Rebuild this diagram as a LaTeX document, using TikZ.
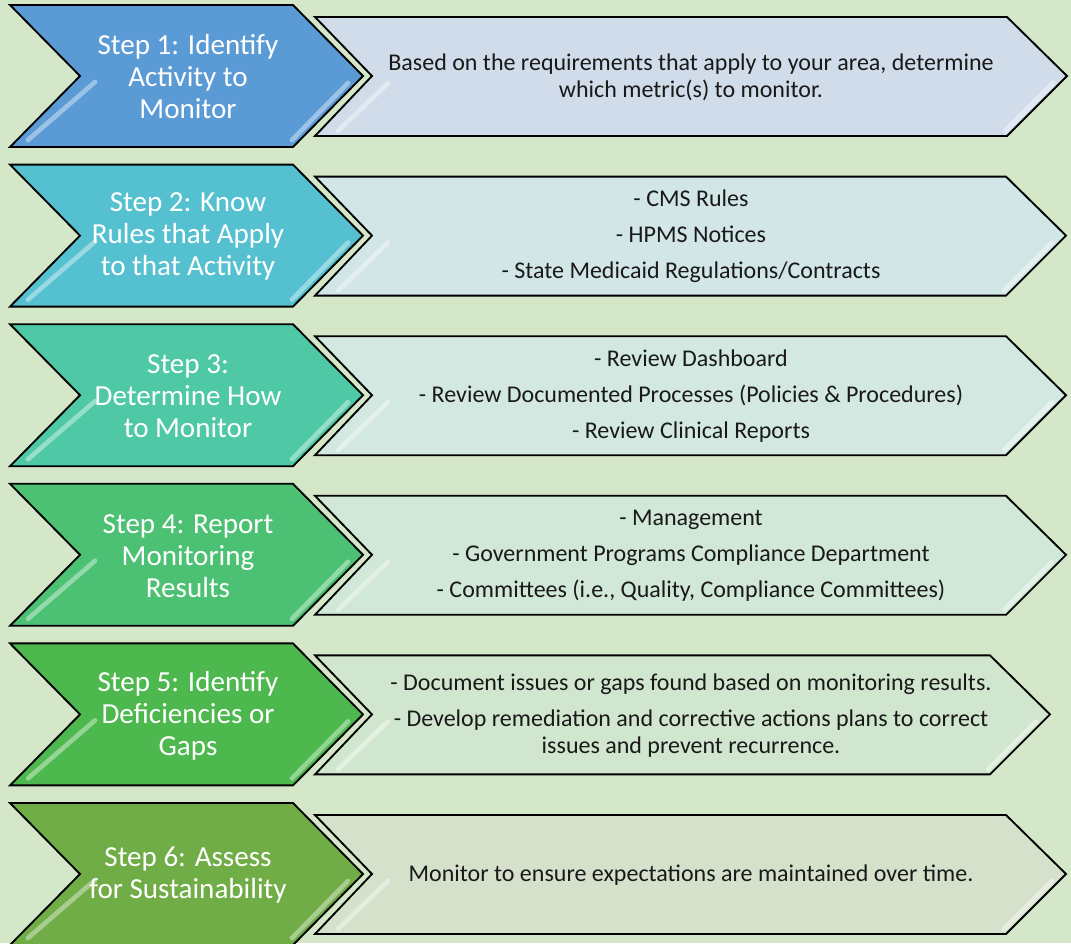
\documentclass[tikz,border=0pt]{standalone}
\usepackage{fontspec}
\setmainfont{Carlito}
\definecolor{bg}{HTML}{D4E7C8}
\definecolor{cA}{HTML}{5B9BD5}\definecolor{lA}{HTML}{D0DCE9}
\definecolor{cB}{HTML}{55C1D0}\definecolor{lB}{HTML}{D2E5E7}
\definecolor{cC}{HTML}{4FC9A5}\definecolor{lC}{HTML}{D2E8E0}
\definecolor{cD}{HTML}{4DC173}\definecolor{lD}{HTML}{D1E7D7}
\definecolor{cE}{HTML}{4DB84D}\definecolor{lE}{HTML}{D1E6CF}
\definecolor{cF}{HTML}{70AD47}\definecolor{lF}{HTML}{D6E1CC}
\tikzset{
  chev/.style={draw=black,line width=1.4pt,line join=miter},
  hl/.style={white,opacity=0.4,line width=3.5pt,line cap=round},
  steptext/.style={text=white,align=center,font=\fontsize{21.8}{24}\selectfont,inner sep=0pt},
  desctext/.style={text=black!90,align=center,font=\fontsize{18}{20.25}\selectfont,inner sep=0pt}
}
\newcommand\steprow[7]{%
  \begin{scope}[shift={(0,#2)}]
    \filldraw[chev,fill=#3] (10,0) -- (293,0) -- (363,71) -- (293,142) -- (10,142) -- (80,71) -- cycle;
    \draw[hl] (95,77) -- (28,135);
    \draw[hl] (348,78) -- (292,135);
    \filldraw[chev,fill=#4] (315,12) -- ({#5-60},12) -- (#5,71) -- ({#5-60},131) -- (315,131) -- (372,71) -- cycle;
    \draw[hl] (388,78) -- (338,126);
    \draw[hl] ({#5-14},78) -- ({#5-62},126);
    \node[steptext] (s#1) at (188,72) {#6};
    \node[desctext] (d#1) at (691,72) {#7};
  \end{scope}}
\begin{document}
\begin{tikzpicture}[x=0.75pt,y=-0.75pt]
\useasboundingbox (0,0) rectangle (1071,943);
\fill[bg] (0,0) rectangle (1071,943);
\steprow{1}{5}{cA}{lA}{1067}{Step 1: Identify\\Activity to\\Monitor}{Based on the requirements that apply to your area, determine\\which metric(s) to monitor.}
\steprow{2}{164.6}{cB}{lB}{1066}{Step 2: Know\\Rules that Apply\\to that Activity}{- CMS Rules\\[6.75pt]- HPMS Notices\\[6.75pt]- State Medicaid Regulations/Contracts}
\steprow{3}{324.2}{cC}{lC}{1066}{Step 3:\\Determine How\\to Monitor}{- Review Dashboard\\[6.75pt]- Review Documented Processes (Policies \& Procedures)\\[6.75pt]- Review Clinical Reports}
\steprow{4}{483.8}{cD}{lD}{1066}{Step 4: Report\\Monitoring\\Results}{- Management\\[6.75pt]- Government Programs Compliance Department\\[6.75pt]- Committees (i.e., Quality, Compliance Committees)}
\steprow{5}{643.4}{cE}{lE}{1050}{Step 5: Identify\\Deficiencies or\\Gaps}{- Document issues or gaps found based on monitoring results.\\[6.75pt]- Develop remediation and corrective actions plans to correct\\issues and prevent recurrence.}
\steprow{6}{803}{cF}{lF}{1066}{Step 6: Assess\\for Sustainability}{Monitor to ensure expectations are maintained over time.}
\end{tikzpicture}
\end{document}
